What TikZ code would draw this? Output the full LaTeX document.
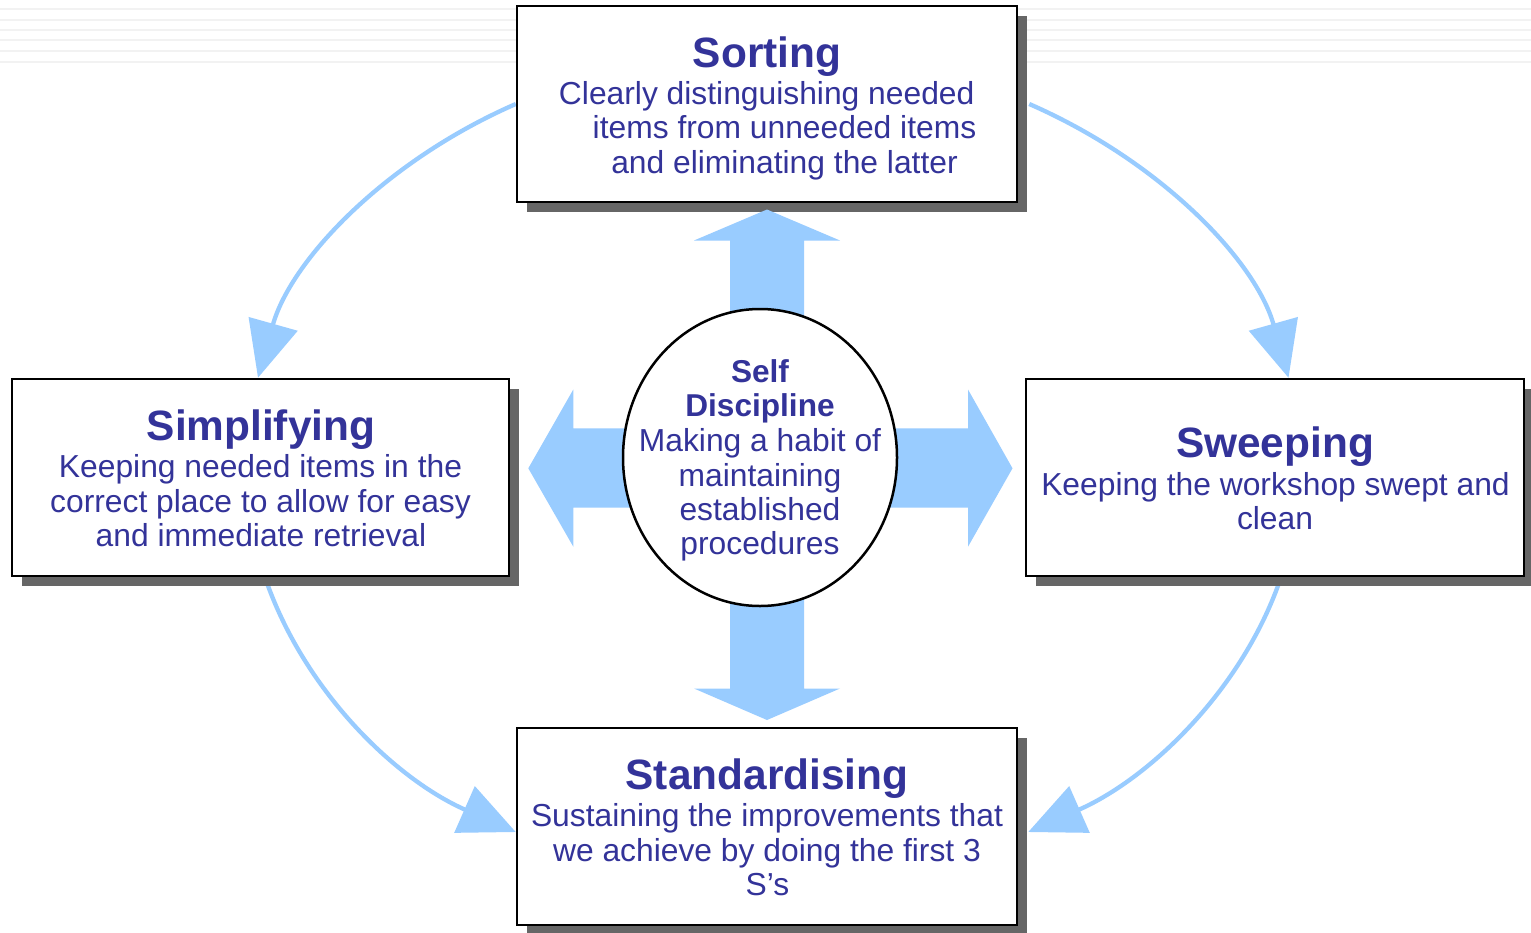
\documentclass[tikz,border=0pt]{standalone}
\usepackage{fontspec}
\setmainfont{Liberation Sans}
\usetikzlibrary{arrows.meta,shadows,shapes.geometric}
\definecolor{txt}{HTML}{333399}
\definecolor{arrowblue}{HTML}{99CCFF}
\definecolor{shadowgray}{HTML}{666666}
\definecolor{faint}{HTML}{F2F2F2}
\pgfdeclarelayer{bglayer}
\pgfdeclarelayer{curvelayer}
\pgfsetlayers{bglayer,curvelayer,main}
\tikzset{
  sbox/.style={draw=black, line width=2.5pt, fill=white, inner sep=0pt,
    minimum width=500pt, minimum height=197pt,
    general shadow={fill=shadowgray, shadow xshift=10pt, shadow yshift=-10pt}},
  title/.style={font=\bfseries\fontsize{42.4}{46}\selectfont, text=txt, inner sep=0pt, anchor=base},
  body/.style={font=\fontsize{31.8}{34.5}\selectfont, text=txt, inner sep=0pt, anchor=base},
  bodyb/.style={font=\bfseries\fontsize{31.6}{34.5}\selectfont, text=txt, inner sep=0pt, anchor=base},
  flow/.style={draw=arrowblue, line width=4.3pt, -{Triangle[length=56pt,width=50pt]}},
  blockarrow/.style={fill=arrowblue, draw=none},
  guide/.style={draw=faint, line width=2pt}
}
\begin{document}
\begin{tikzpicture}[x=1pt,y=-1pt]
\useasboundingbox (0,0) rectangle (1531,932);
\begin{pgfonlayer}{bglayer}
\fill[white] (0,0) rectangle (1531,932);
\foreach \yy in {8.5,19.5,29.5,39.5,50.5,61.5}
  \draw[guide] (0,\yy) -- (1531,\yy);
\end{pgfonlayer}

% boxes
\node[sbox, minimum height=196pt] (sort) at (767,104) {};
\node[sbox, minimum width=497pt] (simp) at (260.5,477.5) {};
\node[sbox, minimum width=498pt] (swp) at (1275,477.5) {};
\node[sbox] (std) at (767,826.5) {};

% curved arrows, behind the boxes
\begin{pgfonlayer}{curvelayer}
\draw[flow] (sort.west) .. controls +(-131.7,57.5) and +(32.9,-117) .. ([xshift=-2.5pt]simp.north);
\draw[flow] ([xshift=11pt]sort.east) .. controls +(131.7,57.5) and +(-32.9,-117) .. ([xshift=13.5pt]swp.north);
\draw[flow] ([xshift=4.5pt]simp.south) .. controls +(38,112) and +(-121.5,-53.5) .. ([yshift=-5.5pt]std.west);
\draw[flow] ([xshift=6pt]swp.south) .. controls +(-38,112) and +(121.5,-53.5) .. ([xshift=10pt,yshift=-5.5pt]std.east);
\end{pgfonlayer}

% Sorting
\node[title] (sortT) at (767,67.5) {Sorting};
\node[body] (sort1) at (766.7,104.5) {Clearly distinguishing needed};
\node[body] (sort2) at (784.5,138.5) {items from unneeded items};
\node[body] (sort3) at (784.5,173) {and eliminating the latter};
% Simplifying
\node[title] (simpT) at (261,440.5) {Simplifying};
\node[body] (simp1) at (260.5,477.5) {Keeping needed items in the};
\node[body] (simp2) at (260.5,512) {correct place to allow for easy};
\node[body] (simp3) at (261,546.5) {and immediate retrieval};
% Sweeping
\node[title] (swpT) at (1275,457) {Sweeping};
\node[body] (swp1) at (1275.5,495) {Keeping the workshop swept and};
\node[body] (swp2) at (1275,529) {clean};
% Standardising
\node[title] (stdT) at (767,789.5) {Standardising};
\node[body] (std1) at (767,826.5) {Sustaining the improvements that};
\node[body] (std2) at (767,861) {we achieve by doing the first 3};
\node[body] (std3) at (767.5,895.5) {S’s};

% block arrows
\fill[blockarrow] (730,330) -- (730,240.5) -- (694,240.5) -- (767,209.5) -- (840,240.5) -- (804,240.5) -- (804,330) -- cycle;
\fill[blockarrow] (730,590) -- (730,688.5) -- (694,688.5) -- (767,720) -- (840,688.5) -- (804,688.5) -- (804,590) -- cycle;
\fill[blockarrow] (650,428.3) -- (573.3,428.3) -- (573.3,389.5) -- (528.3,468.3) -- (573.3,546.7) -- (573.3,507.7) -- (650,507.7) -- cycle;
\fill[blockarrow] (870,428.3) -- (968,428.3) -- (968,389.5) -- (1012.5,468.3) -- (968,546.7) -- (968,507.7) -- (870,507.7) -- cycle;

% centre ellipse
\node[draw=black, line width=2.5pt, fill=white, ellipse, minimum width=274pt, minimum height=297pt, inner sep=0pt] (sd) at (760,457.5) {};
\node[bodyb] (sd1) at (760,382.7) {Self};
\node[bodyb] (sd2) at (760,416.5) {Discipline};
\node[body] (sd3) at (760,451) {Making a habit of};
\node[body] (sd4) at (760,486) {maintaining};
\node[body] (sd5) at (760,520) {established};
\node[body] (sd6) at (760,554) {procedures};
\end{tikzpicture}
\end{document}
